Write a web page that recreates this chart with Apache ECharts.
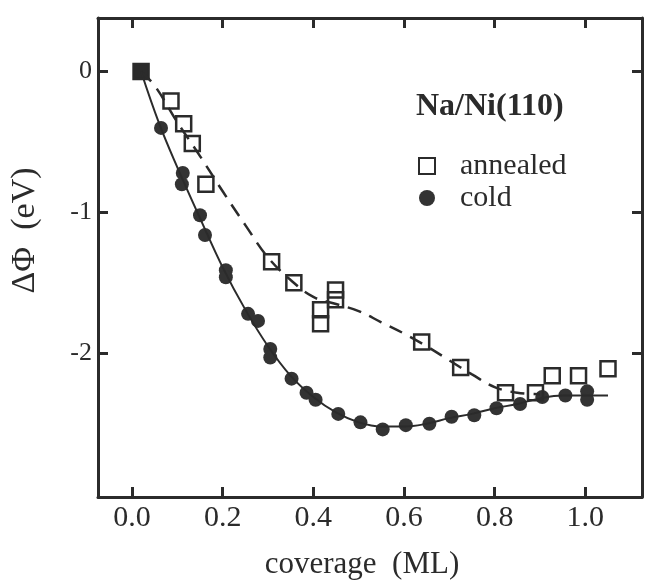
<!DOCTYPE html>
<html>
<head>
<meta charset="utf-8">
<script src="https://cdn.jsdelivr.net/npm/echarts@6/dist/echarts.min.js"></script>
<style>
  html, body { margin: 0; padding: 0; background: #fff; }
  #chart { width: 646px; height: 585px; }
</style>
</head>
<body>
<div id="chart"></div>
<script>
// measured points
const annealedX = [0.02, 0.086, 0.114, 0.133, 0.163, 0.308, 0.357, 0.416, 0.416, 0.449, 0.449, 0.639, 0.725, 0.824, 0.89, 0.927, 0.985, 1.05]
const annealedY = [0, -0.21, -0.37, -0.51, -0.80, -1.35, -1.50, -1.69, -1.79, -1.55, -1.62, -1.92, -2.10, -2.28, -2.28, -2.16, -2.16, -2.11]
const coldX = [0.02, 0.064, 0.11, 0.112, 0.15, 0.161, 0.207, 0.207, 0.256, 0.278, 0.305, 0.305, 0.352, 0.385, 0.405, 0.455, 0.504, 0.553, 0.604, 0.656, 0.705, 0.755, 0.804, 0.856, 0.905, 0.956, 1.004, 1.004]
const coldY = [0, -0.40, -0.80, -0.72, -1.02, -1.16, -1.41, -1.46, -1.72, -1.77, -1.97, -2.03, -2.18, -2.28, -2.33, -2.43, -2.49, -2.54, -2.51, -2.50, -2.45, -2.44, -2.39, -2.36, -2.31, -2.30, -2.27, -2.33]

// guide curves drawn through the data
const annealedFitX = [0.02, 0.05, 0.1, 0.15, 0.2, 0.25, 0.3, 0.35, 0.4, 0.45, 0.5, 0.55, 0.6, 0.65, 0.7, 0.75, 0.8, 0.85, 0.9]
const annealedFitY = [0, -0.1, -0.36, -0.6, -0.85, -1.09, -1.32, -1.48, -1.6, -1.65, -1.7, -1.78, -1.86, -1.95, -2.05, -2.15, -2.24, -2.28, -2.29]
const coldFitX = [0.02, 0.06, 0.1, 0.15, 0.2, 0.25, 0.3, 0.35, 0.4, 0.45, 0.5, 0.55, 0.6, 0.65, 0.7, 0.75, 0.8, 0.85, 0.9, 0.95, 1.0, 1.05]
const coldFitY = [0, -0.37, -0.68, -1.04, -1.39, -1.69, -1.95, -2.16, -2.31, -2.42, -2.49, -2.52, -2.52, -2.5, -2.46, -2.43, -2.39, -2.36, -2.32, -2.3, -2.3, -2.3]

const xTicks = [0, 0.2, 0.4, 0.6, 0.8, 1.0]
const yTicks = [-2, -1, 0]

const ink = '#2b2b2b'
const serif = 'Liberation Serif'
const zip = (xs, ys) => xs.map((x, i) => [x, ys[i]])

const chart = echarts.init(document.getElementById('chart'))

const axisCommon = {
  type: 'value',
  axisLine: { show: true, onZero: false, lineStyle: { color: ink, width: 3 } },
  splitLine: { show: false }
}

// the first square sits on top of the first circle and prints solid
const annealedData = zip(annealedX, annealedY).map((p, i) =>
  i === 0 ? { value: p, itemStyle: { color: ink } } : p
)

chart.setOption({
  animation: false,
  backgroundColor: '#fff',
  grid: { left: 96, right: 4, top: 18, bottom: 88 },
  title: {
    text: 'Na/Ni(110)',
    left: 411,
    top: 86,
    textStyle: { fontFamily: serif, fontSize: 32, fontWeight: 'bold', color: ink }
  },
  legend: {
    data: ['annealed', 'cold'],
    orient: 'vertical',
    left: 413,
    top: 146,
    itemWidth: 16,
    itemHeight: 16,
    itemGap: 2,
    textStyle: { fontFamily: serif, fontSize: 30, color: ink, padding: [0, 0, 0, 20] }
  },
  xAxis: [
    {
      ...axisCommon,
      min: -0.075, max: 1.125,
      name: 'coverage  (ML)',
      nameLocation: 'middle',
      nameGap: 52,
      nameTextStyle: { fontFamily: serif, fontSize: 31, color: ink, padding: [0, 16, 0, 0] },
      axisTick: { inside: true, length: 10, customValues: xTicks, lineStyle: { color: ink, width: 3 } },
      axisLabel: {
        customValues: xTicks, margin: 6,
        fontFamily: serif, fontSize: 30, color: ink,
        formatter: v => v.toFixed(1)
      }
    },
    {
      ...axisCommon,
      position: 'top',
      min: -0.075, max: 1.125,
      axisTick: { inside: true, length: 10, customValues: xTicks, lineStyle: { color: ink, width: 3 } },
      axisLabel: { show: false }
    }
  ],
  yAxis: [
    {
      ...axisCommon,
      min: -3.02, max: 0.38,
      name: 'ΔΦ  (eV)',
      nameLocation: 'middle',
      nameGap: 56,
      nameTextStyle: { fontFamily: serif, fontSize: 34, color: ink, padding: [0, 0, 0, 54] },
      axisTick: { inside: true, length: 10, customValues: yTicks, lineStyle: { color: ink, width: 3 } },
      axisLabel: {
        customValues: yTicks, margin: 6,
        fontFamily: serif, fontSize: 26, color: ink,
        formatter: v => String(v)
      }
    },
    {
      ...axisCommon,
      position: 'right',
      min: -3.02, max: 0.38,
      axisTick: { inside: true, length: 10, customValues: yTicks, lineStyle: { color: ink, width: 3 } },
      axisLabel: { show: false }
    }
  ],
  series: [
    {
      name: 'annealed fit',
      type: 'line',
      data: zip(annealedFitX, annealedFitY),
      smooth: 0.4,
      showSymbol: false,
      lineStyle: { color: ink, width: 2.5, type: [14, 9] },
      silent: true
    },
    {
      name: 'cold fit',
      type: 'line',
      data: zip(coldFitX, coldFitY),
      smooth: 0.4,
      showSymbol: false,
      lineStyle: { color: ink, width: 2 },
      silent: true
    },
    {
      name: 'cold',
      type: 'scatter',
      data: zip(coldX, coldY),
      symbol: 'circle',
      symbolSize: 14,
      itemStyle: { color: '#333', opacity: 1 }
    },
    {
      name: 'annealed',
      type: 'scatter',
      data: annealedData,
      symbol: 'rect',
      symbolSize: 15,
      itemStyle: { color: 'rgba(0,0,0,0)', borderColor: ink, borderWidth: 2.5, opacity: 1 }
    }
  ]
})
</script>
</body>
</html>
